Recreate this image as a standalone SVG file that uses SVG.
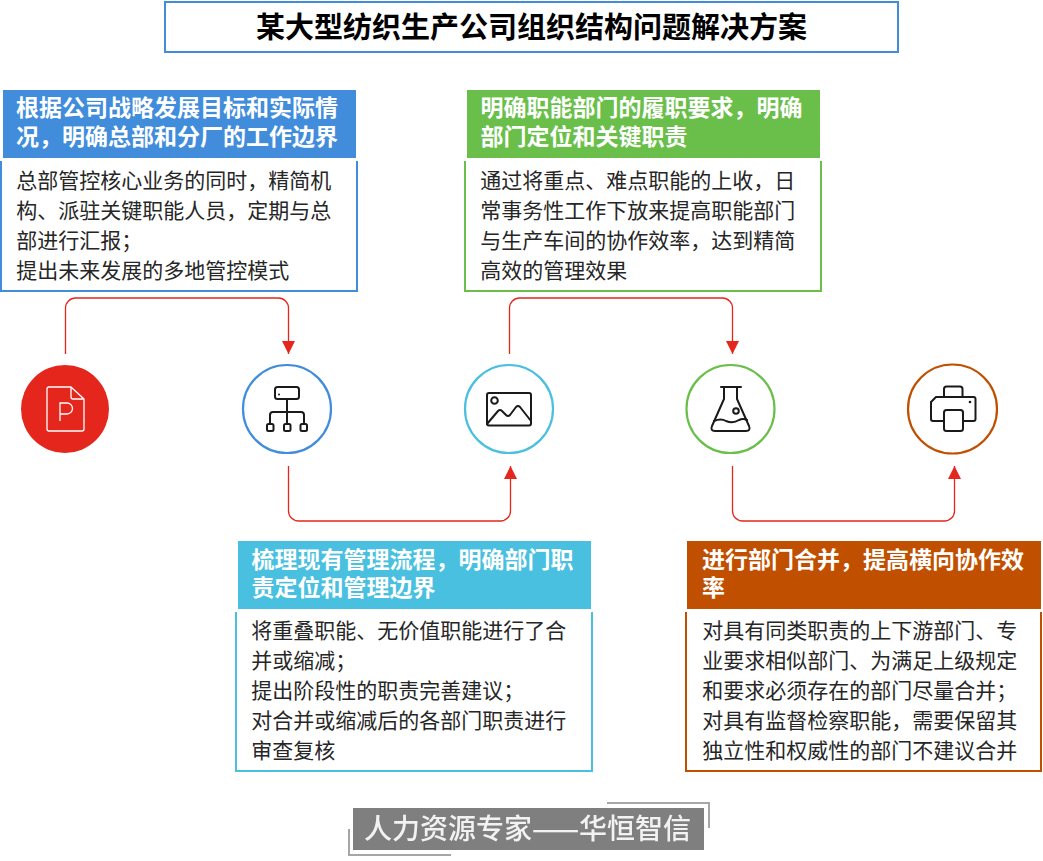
<svg xmlns="http://www.w3.org/2000/svg" width="1043" height="861" viewBox="0 0 1043 861">
<style>
text{font-family:"Noto Sans CJK SC","Liberation Sans",sans-serif}
.h{font-size:23px;font-weight:700;fill:#fff}
.b{font-size:21px;fill:#262626}
.t{font-size:29px;font-weight:700;fill:#000}
.conn{fill:none;stroke:#e4261c;stroke-width:1.3}
.ic{fill:none;stroke:#1a1a1a;stroke-width:2;stroke-linejoin:round;stroke-linecap:round}
.ring{fill:#fff;stroke-width:2.2}
.frame{fill:none;stroke-width:2}
.foot{fill:none;stroke:#a6a6a6;stroke-width:2}
</style>
<defs>
<marker id="ah" markerUnits="userSpaceOnUse" markerWidth="13" markerHeight="13" refX="13" refY="6.5" orient="auto"><path d="M0 0L13 6.5L0 13Z" fill="#e4261c"/></marker>
<filter id="soft" x="-5%" y="-20%" width="110%" height="140%"><feGaussianBlur stdDeviation="0.45"/></filter>
</defs>
<rect width="1043" height="861" fill="#fff"/>
<g id="title"><rect x="165" y="2" width="733" height="50" fill="#fff" stroke="#418ddb" stroke-width="2"/><text class="t" x="531.500" y="38" text-anchor="middle">某大型纺织生产公司组织结构问题解决方案</text></g>
<g id="connectors">
<path class="conn" marker-end="url(#ah)" d="M65.500 354V308A10 10 0 0 1 75.500 298H278.500A10 10 0 0 1 288.500 308V354"/>
<path class="conn" marker-end="url(#ah)" d="M288.500 466V511A10 10 0 0 0 298.500 521H500.500A10 10 0 0 0 510.500 511V466"/>
<path class="conn" marker-end="url(#ah)" d="M509.500 354V308A10 10 0 0 1 519.500 298H722.500A10 10 0 0 1 732.500 308V354"/>
<path class="conn" marker-end="url(#ah)" d="M732.500 466V511A10 10 0 0 0 742.500 521H944.500A10 10 0 0 0 954.500 511V466"/>
</g>
<g id="box1">
<rect x="3" y="90" width="353" height="68" fill="#418ddb"/>
<path class="frame" stroke="#418ddb" d="M1 161V291H357V161"/>
<text class="h" x="16" y="116">根据公司战略发展目标和实际情</text>
<text class="h" x="16" y="145">况，明确总部和分厂的工作边界</text>
<text class="b" x="16.300" y="188">总部管控核心业务的同时，精简机</text>
<text class="b" x="16.300" y="218">构、派驻关键职能人员，定期与总</text>
<text class="b" x="16.300" y="248">部进行汇报；</text>
<text class="b" x="16.300" y="278">提出未来发展的多地管控模式</text>
</g>
<g id="box2">
<rect x="467" y="90" width="353" height="68" fill="#6abf4b"/>
<path class="frame" stroke="#6abf4b" d="M465 161V291H821V161"/>
<text class="h" x="480.500" y="116">明确职能部门的履职要求，明确</text>
<text class="h" x="480.500" y="145">部门定位和关键职责</text>
<text class="b" x="480.300" y="188">通过将重点、难点职能的上收，日</text>
<text class="b" x="480.300" y="218">常事务性工作下放来提高职能部门</text>
<text class="b" x="480.300" y="248">与生产车间的协作效率，达到精简</text>
<text class="b" x="480.300" y="278">高效的管理效果</text>
</g>
<g id="box3">
<rect x="238" y="541" width="353" height="68" fill="#4ac0e0"/>
<path class="frame" stroke="#4ac0e0" d="M236 612V771H592V612"/>
<text class="h" x="251.500" y="568">梳理现有管理流程，明确部门职</text>
<text class="h" x="251.500" y="596">责定位和管理边界</text>
<text class="b" x="251.300" y="638">将重叠职能、无价值职能进行了合</text>
<text class="b" x="251.300" y="668">并或缩减；</text>
<text class="b" x="251.300" y="698">提出阶段性的职责完善建议；</text>
<text class="b" x="251.300" y="728">对合并或缩减后的各部门职责进行</text>
<text class="b" x="251.300" y="758">审查复核</text>
</g>
<g id="box4">
<rect x="687" y="541" width="354" height="68" fill="#c05000"/>
<path class="frame" stroke="#c05000" d="M686 612V771H1041V612"/>
<text class="h" x="702" y="568">进行部门合并，提高横向协作效</text>
<text class="h" x="702" y="596">率</text>
<text class="b" x="702.300" y="638">对具有同类职责的上下游部门、专</text>
<text class="b" x="702.300" y="668">业要求相似部门、为满足上级规定</text>
<text class="b" x="702.300" y="698">和要求必须存在的部门尽量合并；</text>
<text class="b" x="702.300" y="728">对具有监督检察职能，需要保留其</text>
<text class="b" x="702.300" y="758">独立性和权威性的部门不建议合并</text>
</g>
<g id="node1">
<circle cx="65" cy="409" r="44" fill="#e4261c"/>
<path fill="none" stroke="#fff" stroke-width="1.300" stroke-linejoin="round" d="M71 387H49A2 2 0 0 0 47 389V429A2 2 0 0 0 49 431H82A2 2 0 0 0 84 429V399ZM71 387V397A2 2 0 0 0 73 399H84"/>
<path fill="none" stroke="#fff" stroke-width="1.300" d="M60 421V403H67A5 5 0 0 1 67 414H60"/>
</g>
<g id="node2">
<circle class="ring" cx="287" cy="409" r="44" stroke="#418ddb"/>
<rect class="ic" x="275" y="387" width="24" height="12" rx="2.500"/>
<path class="ic" d="M287 399V424M270 424V415A3 3 0 0 1 273 412H301A3 3 0 0 1 304 415V424"/>
<rect class="ic" x="267" y="424" width="6.500" height="7" rx="1.500"/><rect class="ic" x="284" y="424" width="6.500" height="7" rx="1.500"/><rect class="ic" x="300.500" y="424" width="6.500" height="7" rx="1.500"/>
<circle cx="279" cy="394.500" r="1" fill="#1a1a1a"/>
</g>
<g id="node3">
<circle class="ring" cx="509" cy="409" r="44" stroke="#4ac0e0"/>
<rect class="ic" x="487" y="393" width="44" height="32.500" rx="2"/>
<circle class="ic" cx="494.500" cy="400.500" r="3.300"/>
<path class="ic" d="M487 424L498 411Q500 409 502 411L506 415Q508 417 510 415L516 407Q518 405 520 407L531 421"/>
</g>
<g id="node4">
<circle class="ring" cx="730.500" cy="409" r="44" stroke="#6abf4b"/>
<path class="ic" d="M721 387H741M724 387V399L712 426Q710 431 715 431H746Q751 431 749 426L737 399V387"/>
<path class="ic" d="M714 421Q721 418 726 421Q733 424 739 420Q743 418 747 420"/>
<circle class="ic" cx="736" cy="411" r="2.800"/>
</g>
<g id="node5">
<circle class="ring" cx="952.500" cy="409" r="44.500" stroke="#c05000"/>
<path class="ic" d="M944 397V389A2.500 2.500 0 0 1 946.500 386.500H960A2.500 2.500 0 0 1 962.500 389V397"/>
<path class="ic" d="M944 421H933A2 2 0 0 1 931 419V402L936 397H973.500A2 2 0 0 1 975.500 399V419A2 2 0 0 1 973.500 421H963"/>
<rect class="ic" x="944" y="410" width="19" height="21" rx="2.500"/>
<circle cx="970" cy="402" r="1.300" fill="#1a1a1a"/>
</g>
<g id="footer">
<rect x="353" y="808" width="351" height="42" fill="#7f7f7f"/>
<path class="foot" d="M607 803H709V828M349 829V855H451"/>
<text x="527.500" y="839" text-anchor="middle" font-size="28" font-weight="500" fill="#f2f2f2" filter="url(#soft)">人力资源专家——华恒智信</text>
</g>
</svg>
